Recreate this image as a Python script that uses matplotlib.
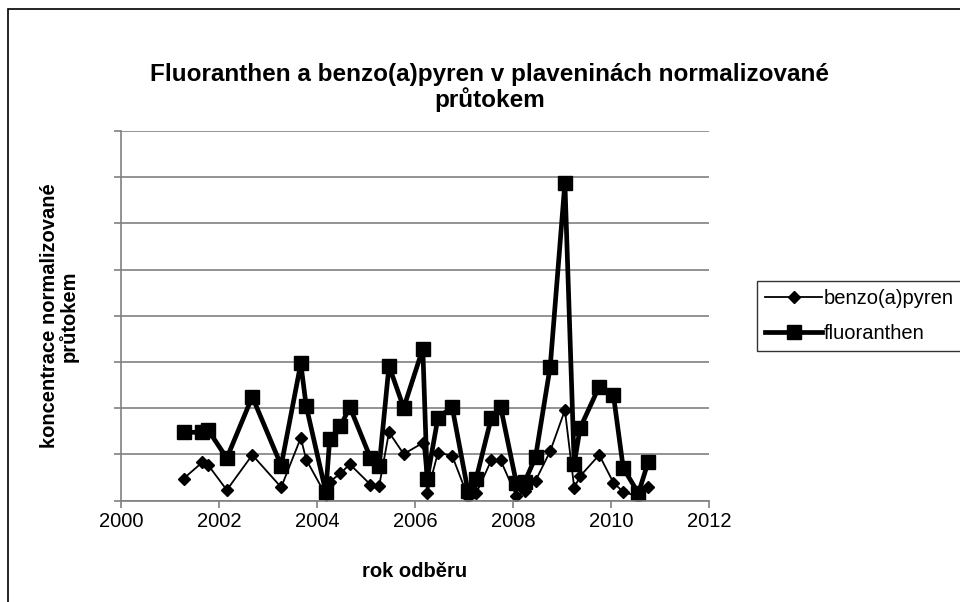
import matplotlib
matplotlib.use('Agg')
import matplotlib.pyplot as plt
from matplotlib.patches import Rectangle

plt.rcParams['font.family'] = ['Liberation Sans', 'DejaVu Sans']

# sampling dates (decimal year)
years = [2001.28, 2001.66, 2001.78, 2002.16, 2002.68, 2003.27, 2003.67, 2003.78,
         2004.18, 2004.26, 2004.48, 2004.67, 2005.09, 2005.27, 2005.47, 2005.77,
         2006.16, 2006.25, 2006.47, 2006.76, 2007.08, 2007.25, 2007.56, 2007.75,
         2008.07, 2008.24, 2008.46, 2008.76, 2009.06, 2009.25, 2009.37, 2009.76,
         2010.05, 2010.25, 2010.56, 2010.76]

# normalised concentrations (axis has no labels, units = gridline steps)
benzo = [0.48, 0.83, 0.77, 0.23, 0.99, 0.29, 1.36, 0.89,
         0.12, 0.41, 0.59, 0.79, 0.35, 0.32, 1.48, 1.01,
         1.25, 0.16, 1.04, 0.97, 0.09, 0.16, 0.88, 0.87,
         0.10, 0.21, 0.43, 1.07, 1.96, 0.28, 0.53, 0.99,
         0.39, 0.19, 0.09, 0.30]

fluor = [1.48, 1.48, 1.53, 0.92, 2.25, 0.76, 2.97, 2.05,
         0.19, 1.33, 1.61, 2.03, 0.93, 0.75, 2.92, 2.01,
         3.29, 0.48, 1.80, 2.02, 0.22, 0.48, 1.80, 2.02,
         0.38, 0.41, 0.94, 2.90, 6.88, 0.79, 1.57, 2.47,
         2.29, 0.71, 0.16, 0.84]

xticks = [2000, 2002, 2004, 2006, 2008, 2010, 2012]

fig = plt.figure(figsize=(9.6, 6.02), dpi=100)
ax = fig.add_axes([0.126, 0.1683, 0.6125, 0.6141])

# outer chart border (right/bottom fall outside the picture)
fig.patches.append(Rectangle((8 / 960, -0.05), 1.1, 1 - 9 / 602 + 0.05,
                             transform=fig.transFigure, fill=False,
                             edgecolor='black', linewidth=1.2))

ax.plot(years, benzo, color='black', lw=1.3, marker='D', ms=6.5,
        label='benzo(a)pyren')
ax.plot(years, fluor, color='black', lw=3.4, marker='s', ms=9.5,
        label='fluoranthen')

ax.set_xlim(2000, 2012)
ax.set_ylim(0, 8)
ax.set_xticks(xticks)
ax.set_yticks(range(0, 9))
ax.set_yticklabels([])
ax.yaxis.grid(True, color='#808080', lw=1.2)
ax.set_axisbelow(True)
ax.tick_params(axis='both', direction='out', length=5, width=1.2,
               color='#808080', labelsize=14.5)
for s in ['top', 'right']:
    ax.spines[s].set_visible(False)
for s in ['left', 'bottom']:
    ax.spines[s].set_color('#808080')
    ax.spines[s].set_linewidth(1.2)

ax.set_xlabel('rok odběru', fontsize=14.5, fontweight='bold', labelpad=22)
ax.set_ylabel('koncentrace normalizované\nprůtokem', fontsize=14.5,
              fontweight='bold', labelpad=22, linespacing=1.0)

fig.text(0.51, 0.855, 'Fluoranthen a benzo(a)pyren v plaveninách normalizované\nprůtokem',
         ha='center', va='center', fontsize=17.5, fontweight='bold', linespacing=1.05)

leg = fig.legend(loc='upper left', bbox_to_anchor=(757 / 960, 1 - 281 / 602),
                 fontsize=14.5, frameon=True, fancybox=False, edgecolor='black',
                 handlelength=2.8, handletextpad=0.1, borderaxespad=0,
                 borderpad=0.42, labelspacing=0.75)
leg.get_frame().set_linewidth(1.0)

fig.savefig('out.png', dpi=100)
